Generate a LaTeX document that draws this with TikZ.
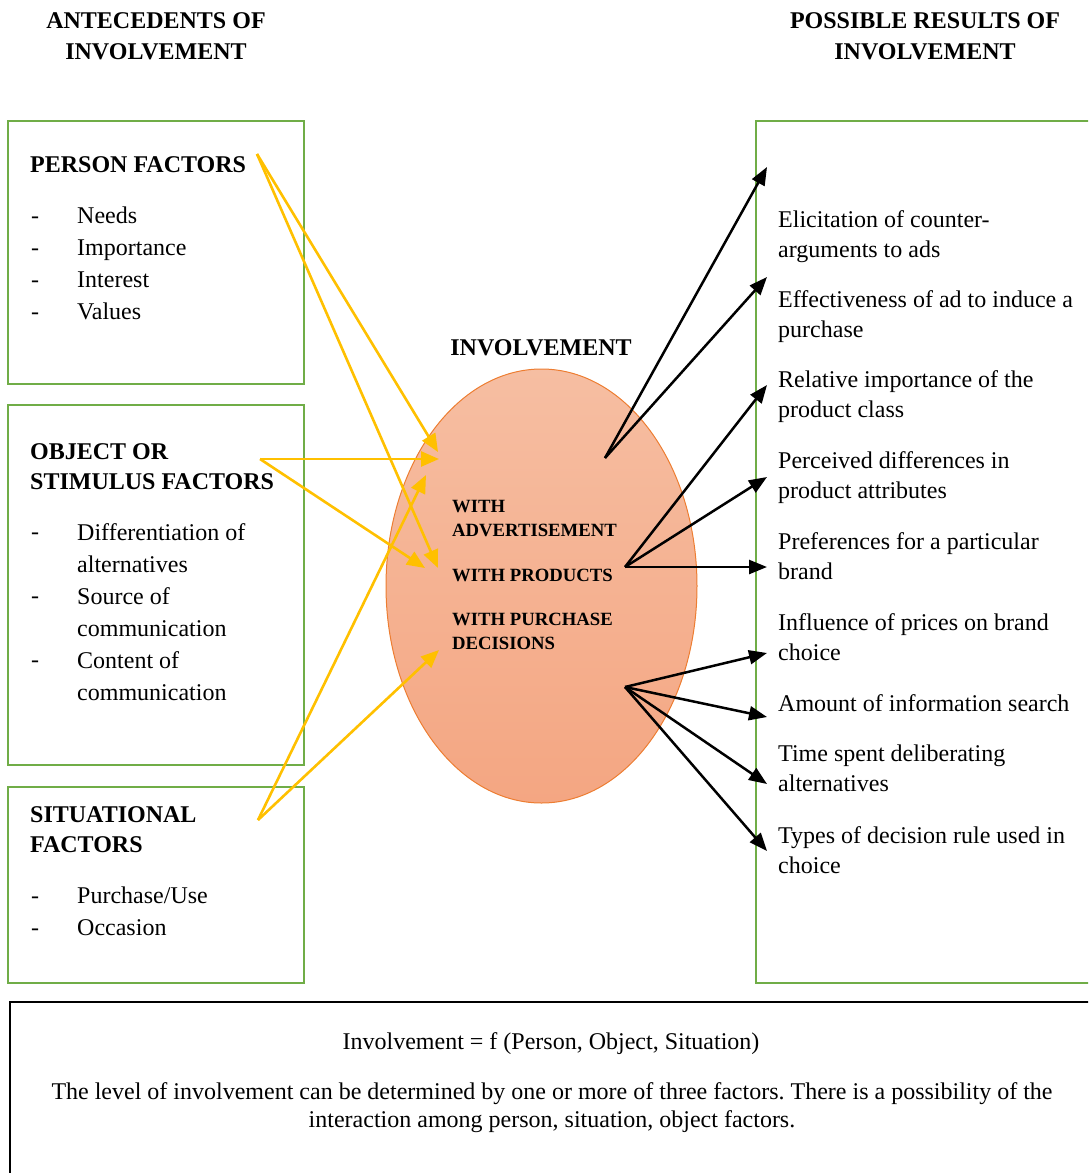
\documentclass[tikz,border=0pt]{standalone}
\usepackage{fontspec}
\setmainfont{Liberation Serif}
\usetikzlibrary{arrows.meta,shapes.geometric}
\definecolor{boxgreen}{HTML}{70AD47}
\definecolor{arrowgold}{HTML}{FFC000}
\definecolor{ovalline}{HTML}{ED7D31}
\definecolor{ovaltop}{HTML}{F6BEA2}
\definecolor{ovalbot}{HTML}{F4A682}
\frenchspacing
\begin{document}
\begin{tikzpicture}[x=1pt,y=-1pt,
  body/.style={inner sep=0pt,font=\fontsize{24}{30}\selectfont},
  lines/.style={body,anchor=north west,align=left},
  spaced/.style={body,anchor=north west,align=left,font=\fontsize{24}{32}\selectfont},
  dashmark/.style={body,anchor=base west},
  heading/.style={inner sep=0pt,anchor=north west,align=left,font=\fontsize{24}{30}\selectfont\bfseries},
  title/.style={inner sep=0pt,anchor=north,align=center,font=\fontsize{24}{31}\selectfont\bfseries},
  ovaltext/.style={inner sep=0pt,anchor=north west,align=left,font=\fontsize{18.7}{24}\selectfont\bfseries},
  greenbox/.style={draw=boxgreen,line width=2.5pt},
  goldarrow/.style={draw=arrowgold,line width=2.6pt,-{Triangle[length=18pt,width=15pt]}},
  blackarrow/.style={draw=black,line width=2.5pt,-{Triangle[length=18pt,width=14pt]}}
]
\useasboundingbox (0,0) rectangle (1088,1173);
\clip (0,0) rectangle (1088,1173);

% column titles
\node[title] (lefttitle) at (156,12) {ANTECEDENTS OF\\INVOLVEMENT};
\node[title] (righttitle) at (925,12) {POSSIBLE RESULTS OF\\INVOLVEMENT};

% antecedent boxes
\draw[greenbox] (8,121) rectangle (304,384);
\draw[greenbox] (8,405) rectangle (304,765);
\draw[greenbox] (8,787) rectangle (304,983);
% results box
\draw[greenbox] (756,121) rectangle (1100,983);
% formula box
\draw[line width=2.5pt] (10,1002) rectangle (1100,1190);

% person factors
\node[heading] (personhead) at (30,156) {PERSON FACTORS};
\node[spaced] (personlist) at (77,207) {Needs\\Importance\\Interest\\Values};
\foreach \y [count=\i] in {215,247,279,311} \node[dashmark] (pd\i) at (31,\y+8) {-};

% object factors
\node[heading] (objecthead) at (30,443) {OBJECT OR\\STIMULUS FACTORS};
\node[spaced] (objectlist) at (77,523) {Differentiation of\\alternatives\\Source of\\communication\\Content of\\communication};
\foreach \y [count=\i] in {531,595,659} \node[dashmark] (od\i) at (31,\y+8) {-};

% situational factors
\node[heading] (situhead) at (30,806) {SITUATIONAL\\FACTORS};
\node[spaced] (situlist) at (77,887) {Purchase/Use\\Occasion};
\foreach \y [count=\i] in {895,927} \node[dashmark] (sd\i) at (31,\y+8) {-};

% central oval
\node[title] (ovaltitle) at (541,339) {INVOLVEMENT};
\node[ellipse,draw=ovalline,line width=1pt,top color=ovaltop,bottom color=ovalbot,
      minimum width=311pt,minimum height=434pt,inner sep=0pt] (oval) at (541.5,586) {};
\node[ovaltext] (withad) at (452,500) {WITH\\ADVERTISEMENT};
\node[ovaltext] (withprod) at (452,569) {WITH PRODUCTS};
\node[ovaltext] (withpur) at (452,613) {WITH PURCHASE\\DECISIONS};

% results
\node[lines] (r1) at (778,210) {Elicitation of counter-\\arguments to ads};
\node[lines] (r2) at (778,290) {Effectiveness of ad to induce a\\purchase};
\node[lines] (r3) at (778,370) {Relative importance of the\\product class};
\node[lines] (r4) at (778,451) {Perceived differences in\\product attributes};
\node[lines] (r5) at (778,532) {Preferences for a particular\\brand};
\node[lines] (r6) at (778,613) {Influence of prices on brand\\choice};
\node[lines] (r7) at (778,694) {Amount of information search};
\node[lines] (r8) at (778,745) {Time spent deliberating\\alternatives};
\node[lines] (r9) at (778,826) {Types of decision rule used in\\choice};

% formula
\node[body,anchor=base] (formula) at (551,1049) {Involvement = f (Person, Object, Situation)};
\node[body,anchor=north,align=center,font=\fontsize{24}{28}\selectfont] (note) at (552,1082)
  {The level of involvement can be determined by one or more of three factors. There is a possibility of the\\interaction among person, situation, object factors.};

% arrow end points
\coordinate (pf) at (257,154);
\coordinate (of) at (260,459);
\coordinate (sf) at (258,820);
\coordinate (adin1) at (438,452);
\coordinate (adin2) at (439,459);
\coordinate (adin3) at (426,475);
\coordinate (prodin1) at (438,568);
\coordinate (prodin2) at (425,568);
\coordinate (purin) at (439,650);
\coordinate (adout) at (605,458);
\coordinate (prodout) at (625,567);
\coordinate (purout) at (625,687);
\foreach \n/\y in {1/167,2/277,3/385,4/477,5/567,6/653,7/717,8/784,9/851}
  \coordinate (rt\n) at (767,\y);

% antecedent arrows
\draw[goldarrow] (pf) -- (adin1);
\draw[goldarrow] (pf) -- (prodin1);
\draw[goldarrow] (of) -- (adin2);
\draw[goldarrow] (of) -- (prodin2);
\draw[goldarrow] (sf) -- (adin3);
\draw[goldarrow] (sf) -- (purin);

% result arrows
\draw[blackarrow] (adout) -- (rt1);
\draw[blackarrow] (adout) -- (rt2);
\draw[blackarrow] (prodout) -- (rt3);
\draw[blackarrow] (prodout) -- (rt4);
\draw[blackarrow] (prodout) -- (rt5);
\draw[blackarrow] (purout) -- (rt6);
\draw[blackarrow] (purout) -- (rt7);
\draw[blackarrow] (purout) -- (rt8);
\draw[blackarrow] (purout) -- (rt9);
\end{tikzpicture}
\end{document}
